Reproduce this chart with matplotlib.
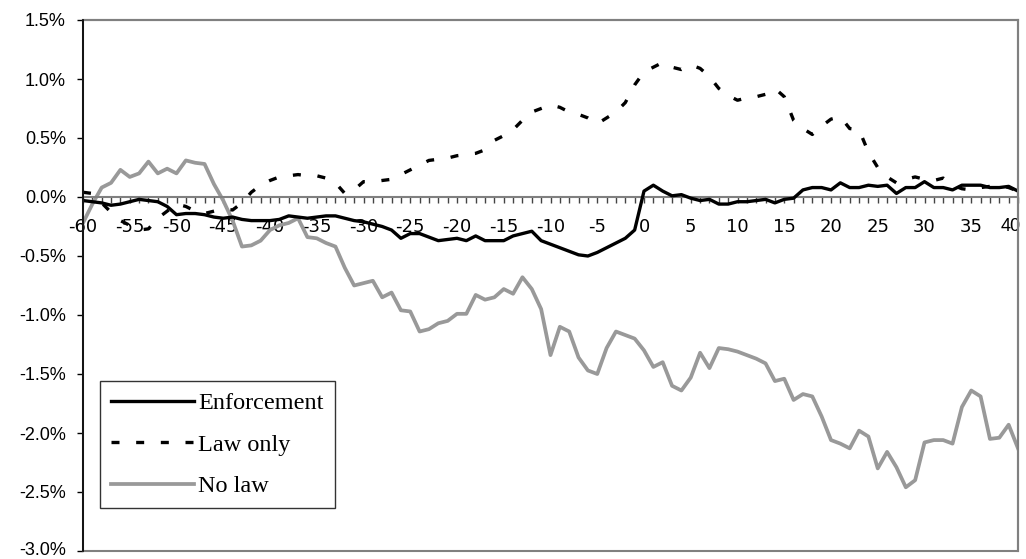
import numpy as np
import matplotlib.pyplot as plt
from matplotlib.patches import Rectangle
from matplotlib.ticker import FuncFormatter, MultipleLocator

days = list(range(-60, 41))

# values in percent
enforcement = [
    -0.03, -0.04, -0.05, -0.07, -0.06, -0.04, -0.02, -0.03, -0.04, -0.08,
    -0.15, -0.14, -0.14, -0.15, -0.17, -0.18, -0.17, -0.19, -0.20, -0.20,
    -0.20, -0.19, -0.16, -0.17, -0.18, -0.17, -0.16, -0.16, -0.18, -0.20,
    -0.21, -0.23, -0.25, -0.28, -0.35, -0.31, -0.31, -0.34, -0.37, -0.36,
    -0.35, -0.37, -0.33, -0.37, -0.37, -0.37, -0.33, -0.31, -0.29, -0.37,
    -0.40, -0.43, -0.46, -0.49, -0.50, -0.47, -0.43, -0.39, -0.35, -0.28,
    0.05, 0.10, 0.05, 0.01, 0.02, -0.01, -0.03, -0.02, -0.06, -0.06,
    -0.04, -0.04, -0.03, -0.02, -0.05, -0.02, -0.01, 0.06, 0.08, 0.08,
    0.06, 0.12, 0.08, 0.08, 0.10, 0.09, 0.10, 0.03, 0.08, 0.08,
    0.13, 0.08, 0.08, 0.06, 0.10, 0.10, 0.10, 0.08, 0.08, 0.09,
    0.05,
]

law_only = [
    0.04, 0.03, -0.05, -0.13, -0.20, -0.24, -0.28, -0.27, -0.18, -0.12,
    -0.06, -0.08, -0.12, -0.14, -0.12, -0.10, -0.11, -0.05, 0.04, 0.10,
    0.14, 0.17, 0.18, 0.19, 0.18, 0.18, 0.16, 0.12, 0.03, 0.06,
    0.13, 0.13, 0.14, 0.15, 0.19, 0.23, 0.27, 0.31, 0.32, 0.33,
    0.35, 0.36, 0.37, 0.40, 0.48, 0.52, 0.57, 0.65, 0.72, 0.75,
    0.78, 0.76, 0.72, 0.70, 0.67, 0.62, 0.67, 0.72, 0.80, 0.95,
    1.06, 1.10, 1.14, 1.10, 1.08, 1.12, 1.09, 1.02, 0.92, 0.86,
    0.82, 0.84, 0.85, 0.87, 0.92, 0.85, 0.65, 0.58, 0.53, 0.60,
    0.66, 0.68, 0.58, 0.57, 0.38, 0.25, 0.17, 0.12, 0.15, 0.17,
    0.15, 0.14, 0.16, 0.10, 0.07, 0.06, 0.08, 0.09, 0.10, 0.08,
    0.05,
]

no_law = [
    -0.22, -0.06, 0.08, 0.12, 0.23, 0.17, 0.20, 0.30, 0.20, 0.24,
    0.20, 0.31, 0.29, 0.28, 0.11, -0.03, -0.20, -0.42, -0.41, -0.37,
    -0.28, -0.24, -0.22, -0.18, -0.34, -0.35, -0.39, -0.42, -0.60, -0.75,
    -0.73, -0.71, -0.85, -0.81, -0.96, -0.97, -1.14, -1.12, -1.07, -1.05,
    -0.99, -0.99, -0.83, -0.87, -0.85, -0.78, -0.82, -0.68, -0.78, -0.95,
    -1.34, -1.10, -1.14, -1.36, -1.47, -1.50, -1.28, -1.14, -1.17, -1.20,
    -1.30, -1.44, -1.40, -1.60, -1.64, -1.53, -1.32, -1.45, -1.28, -1.29,
    -1.31, -1.34, -1.37, -1.41, -1.56, -1.54, -1.72, -1.67, -1.69, -1.86,
    -2.06, -2.09, -2.13, -1.98, -2.03, -2.30, -2.16, -2.29, -2.46, -2.40,
    -2.08, -2.06, -2.06, -2.09, -1.78, -1.64, -1.69, -2.05, -2.04, -1.93,
    -2.13,
]

y_min, y_max = -0.03, 0.015

fig = plt.figure(figsize=(10.26, 5.59), dpi=100)
ax = fig.add_axes([83 / 1026, 1 - 551 / 559, (1018 - 83) / 1026, (551 - 20) / 559])

x = np.array(days)
ax.plot(x, np.array(no_law) / 100, color='#999999', lw=2.7, label='No law', zorder=2)
ax.plot(x, np.array(law_only) / 100, color='black', lw=2.4, dashes=(2.4, 5.0),
        label='Law only', zorder=3)
ax.plot(x, np.array(enforcement) / 100, color='black', lw=2.4, label='Enforcement', zorder=4)

ax.set_xlim(days[0], days[-1])
ax.set_ylim(y_min, y_max)

# the end labels are nudged a little so that they stay on the canvas
last = days[-1]
ax.yaxis.set_major_locator(MultipleLocator(0.005))
ax.yaxis.set_major_formatter(
    FuncFormatter(lambda v, p: '' if abs(v - y_min) < 1e-9 else f'{v * 100:.1f}%'))
ax.xaxis.set_major_locator(MultipleLocator(5))
ax.xaxis.set_minor_locator(MultipleLocator(1))
ax.xaxis.set_major_formatter(
    FuncFormatter(lambda v, p: '' if round(v) == last else f'{int(round(v))}'))

tick_len = 4.3
xpad = 11
ypad = 8
ax.tick_params(axis='y', direction='out', length=tick_len, width=1, color='black',
               labelsize=13, pad=ypad)
ax.tick_params(axis='x', which='both', direction='out', length=tick_len, width=1,
               color='#444444', labelsize=13, pad=xpad)
for lab in ax.get_xticklabels() + ax.get_yticklabels():
    lab.set_fontfamily('Liberation Sans')
for lab in ax.get_yticklabels():
    lab.set_verticalalignment('center_baseline')
ax.annotate(str(last), xy=(last, 0), xycoords='data',
            xytext=(-5, -(tick_len + xpad)), textcoords='offset points',
            ha='center', va='top', fontsize=13, family='Liberation Sans',
            annotation_clip=False)
ax.annotate(f'{y_min * 100:.1f}%', xy=(0, y_min), xycoords=('axes fraction', 'data'),
            xytext=(-(tick_len + ypad), 2), textcoords='offset points',
            ha='right', va='center_baseline', fontsize=13, family='Liberation Sans',
            annotation_clip=False)

ax.spines['bottom'].set_position(('data', 0))
ax.spines['bottom'].set_color('#808080')
ax.spines['bottom'].set_linewidth(1.5)
ax.spines['left'].set_color('black')
ax.spines['left'].set_linewidth(1.2)
ax.spines['left'].set_zorder(6)
for s in ['top', 'right']:
    ax.spines[s].set_color('#808080')
    ax.spines[s].set_linewidth(1.5)
ax.add_patch(Rectangle((0, 0), 1, 1, transform=ax.transAxes, fill=False,
                       edgecolor='#808080', lw=1.5, clip_on=False, zorder=5))

handles, labels = ax.get_legend_handles_labels()
order = [2, 1, 0]
leg = ax.legend([handles[i] for i in order], [labels[i] for i in order],
                loc='lower left', bbox_to_anchor=(17 / 935, 43 / 531),
                frameon=True, fancybox=False, edgecolor='black',
                prop={'family': 'Liberation Serif', 'size': 17.5},
                handlelength=3.4, handletextpad=0.2, borderpad=0.45,
                labelspacing=0.8, borderaxespad=0)
leg.get_frame().set_linewidth(1.0)

fig.savefig('out.png', dpi=100)
